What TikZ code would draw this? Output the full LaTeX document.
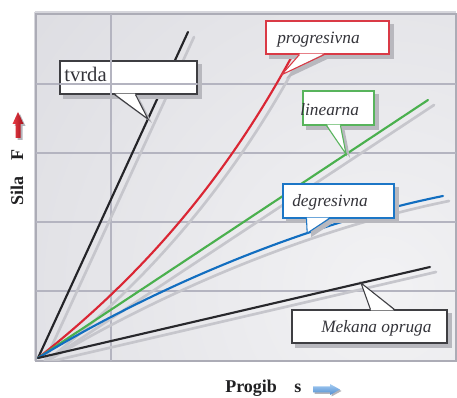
\documentclass[tikz,border=0pt]{standalone}
\usepackage{fontspec}
\setmainfont{Liberation Serif}
\usetikzlibrary{calc}

\pgfdeclarelayer{plotback}
\pgfdeclarelayer{plotcurves}
\pgfdeclarelayer{boxshadow}
\pgfsetlayers{plotback,plotcurves,boxshadow,main}

\definecolor{plotLight}{RGB}{242,242,244}
\definecolor{plotDark}{RGB}{207,207,214}
\definecolor{redArrowA}{RGB}{232,60,70}
\definecolor{redArrowB}{RGB}{165,18,28}
\definecolor{blueArrowA}{RGB}{165,205,242}
\definecolor{blueArrowB}{RGB}{80,140,208}

\tikzset{every picture/.style={line width=0.75pt}}
\tikzset{
  gridline/.style={color={rgb, 255:red, 180; green, 180; blue, 192}, line width=0.9pt},
  frameline/.style={color={rgb, 255:red, 172; green, 172; blue, 182}, line width=1.1pt},
  springline/.style={line width=1.6pt, line cap=round},
  springshadow/.style={color={rgb, 255:red, 198; green, 198; blue, 204}, line width=2pt, line cap=round},
  tvEdge/.style={draw={rgb, 255:red, 62; green, 62; blue, 66}, line width=0.8pt},
  progEdge/.style={draw={rgb, 255:red, 218; green, 58; blue, 70}, line width=0.8pt},
  linEdge/.style={draw={rgb, 255:red, 88; green, 180; blue, 92}, line width=0.8pt},
  degEdge/.style={draw={rgb, 255:red, 28; green, 118; blue, 198}, line width=0.8pt},
  callbox/.style={rectangle, fill=white, inner sep=0pt},
  boxshade/.style={fill={rgb, 255:red, 184; green, 184; blue, 190}},
  calltext/.style={anchor=base west, inner sep=0pt, text={rgb, 255:red, 52; green, 52; blue, 58}, font=\rmfamily\fontsize{13}{15}\selectfont\itshape},
  axistext/.style={inner sep=0pt, text={rgb, 255:red, 32; green, 32; blue, 34}, font=\rmfamily\fontsize{13.5}{16}\selectfont\bfseries},
}

\begin{document}
\begin{tikzpicture}[x=0.75pt,y=0.75pt,yscale=-1,xscale=1]
\useasboundingbox (0,0) rectangle (457,398);

% plot field and grid
\begin{pgfonlayer}{plotback}
\begin{scope}
\clip (36,14) rectangle (456,361);
\shade[inner color=plotLight, outer color=plotDark] (380,290) circle [radius=760];
\end{scope}
\draw[color={rgb, 255:red, 214; green, 214; blue, 220}, line width=1.5pt] (34.5,12.5) -- (34.5,361) ;
\draw[color={rgb, 255:red, 214; green, 214; blue, 220}, line width=1.5pt] (34.5,12.5) -- (456,12.5) ;
\draw[frameline] (36,14) rectangle (456,361);
\foreach \y in {84,153,222,291}
  \draw[gridline] (36,\y) -- (456,\y);
\draw[gridline] (111,14) -- (111,361);
\end{pgfonlayer}

\coordinate (origin) at (38,358);

% spring characteristics
\begin{pgfonlayer}{plotcurves}
\begin{scope}
\clip (36,14) rectangle (456,361);
\begin{scope}[shift={(6,5)}]
\draw[springshadow] (38,358) -- (188,32);
\draw[springshadow] (38,358) .. controls (150,270) and (230,170) .. (291,58);
\draw[springshadow] (38,358) -- (428,100);
\draw[springshadow] (38,358) .. controls (150,290) and (300,225) .. (443,196);
\draw[springshadow] (38,358) -- (430,267);
\end{scope}
\end{scope}
\draw[springline, color={rgb, 255:red, 36; green, 36; blue, 40}] (origin) -- coordinate[pos=0.733] (tvTip) (188,32);
\draw[springline, color={rgb, 255:red, 218; green, 38; blue, 52}] (origin) .. controls (150,270) and (230,170) .. coordinate[pos=0.95] (progTip) (291,58);
\draw[springline, color={rgb, 255:red, 74; green, 176; blue, 78}] (origin) -- coordinate[pos=0.79] (linTip) (428,100);
\draw[springline, color={rgb, 255:red, 18; green, 110; blue, 192}] (origin) .. controls (150,290) and (300,225) .. coordinate[pos=0.685] (degTip) (443,196);
\draw[springline, color={rgb, 255:red, 40; green, 40; blue, 44}] (origin) -- coordinate[pos=0.824] (mekTip) (430,267);
\end{pgfonlayer}

% callouts
\node[callbox, tvEdge, minimum width=102.75pt, minimum height=24.75pt] (tvBox) at (128.5,77.5) {};
\node[callbox, progEdge, minimum width=92.25pt, minimum height=24.75pt] (progBox) at (327.5,37.5) {};
\node[callbox, linEdge, minimum width=53.25pt, minimum height=25.5pt] (linBox) at (338.5,108) {};
\node[callbox, degEdge, minimum width=83.25pt, minimum height=25.5pt] (degBox) at (338.5,201) {};
\node[callbox, tvEdge, minimum width=116.25pt, minimum height=24.75pt] (mekBox) at (369.5,326.5) {};

\coordinate (tvA) at ($(tvBox.south west)+(55,0)$);
\coordinate (tvB) at ($(tvBox.south west)+(76,0)$);
\coordinate (progA) at ($(progBox.south west)+(34,0)$);
\coordinate (progB) at ($(progBox.south west)+(59,0)$);
\coordinate (linA) at ($(linBox.south west)+(24,0)$);
\coordinate (linB) at ($(linBox.south west)+(38,0)$);
\coordinate (degA) at ($(degBox.south west)+(24,0)$);
\coordinate (degB) at ($(degBox.south west)+(47,0)$);
\coordinate (mekA) at ($(mekBox.north west)+(79,0)$);
\coordinate (mekB) at ($(mekBox.north west)+(103,0)$);

\begin{pgfonlayer}{boxshadow}
\foreach \b in {tv,prog,lin,deg,mek}{
  \fill[boxshade] ($(\b Box.south west)+(4,4)$) rectangle ($(\b Box.north east)+(4,4)$);
  \fill[boxshade] ($(\b A)+(4,4)$) -- ($(\b Tip)+(4,4)$) -- ($(\b B)+(4,4)$) -- cycle;
}
\end{pgfonlayer}

\foreach \b/\e/\d in {tv/tvEdge/-1, prog/progEdge/-1, lin/linEdge/-1, deg/degEdge/-1, mek/tvEdge/1}{
  \fill[white] ($(\b A)+(0.5,\d)$) -- (\b Tip) -- ($(\b B)+(-0.5,\d)$) -- cycle;
  \draw[\e] (\b A) -- (\b Tip) -- (\b B);
}

% grid shows through the tvrda box
\begin{scope}
\clip (tvBox.south west) rectangle (tvBox.north east);
\draw[gridline] (111,14) -- (111,361);
\draw[gridline] (36,84) -- (456,84);
\end{scope}

\node[calltext, font=\rmfamily\fontsize{15.5}{17}\selectfont\upshape] (tvText) at (64,82) {tvrda};
\node[calltext] (progText) at (277,44) {progresivna};
\node[calltext] (linText) at (300,116) {linearna};
\node[calltext] (degText) at (292,207) {degresivna};
\node[calltext] (mekText) at (321,333) {Mekana opruga};

% axis labels
\node[axistext, rotate=90] (silaLabel) at (17,177.5) {Sila\hspace{12pt}F};
\node[axistext, anchor=base west] (progibLabel) at (225,393) {Progib\hspace{13pt}s};

\fill[color={rgb, 255:red, 180; green, 180; blue, 186}] (20,114) -- (25.5,126) -- (22.5,126) -- (22.5,140) -- (17.5,140) -- (17.5,126) -- (14.5,126) -- cycle;
\shade[left color=redArrowA, right color=redArrowB] (18,112) -- (23.5,124) -- (20.5,124) -- (20.5,138) -- (15.5,138) -- (15.5,124) -- (12.5,124) -- cycle;

\fill[color={rgb, 255:red, 180; green, 180; blue, 186}] (314.5,388) -- (331.5,388) -- (331.5,385.5) -- (341.5,391) -- (331.5,396.5) -- (331.5,394) -- (314.5,394) -- cycle;
\shade[top color=blueArrowA, bottom color=blueArrowB] (313,386.5) -- (330,386.5) -- (330,384) -- (340,389.5) -- (330,395) -- (330,392.5) -- (313,392.5) -- cycle;

\end{tikzpicture}
\end{document}
